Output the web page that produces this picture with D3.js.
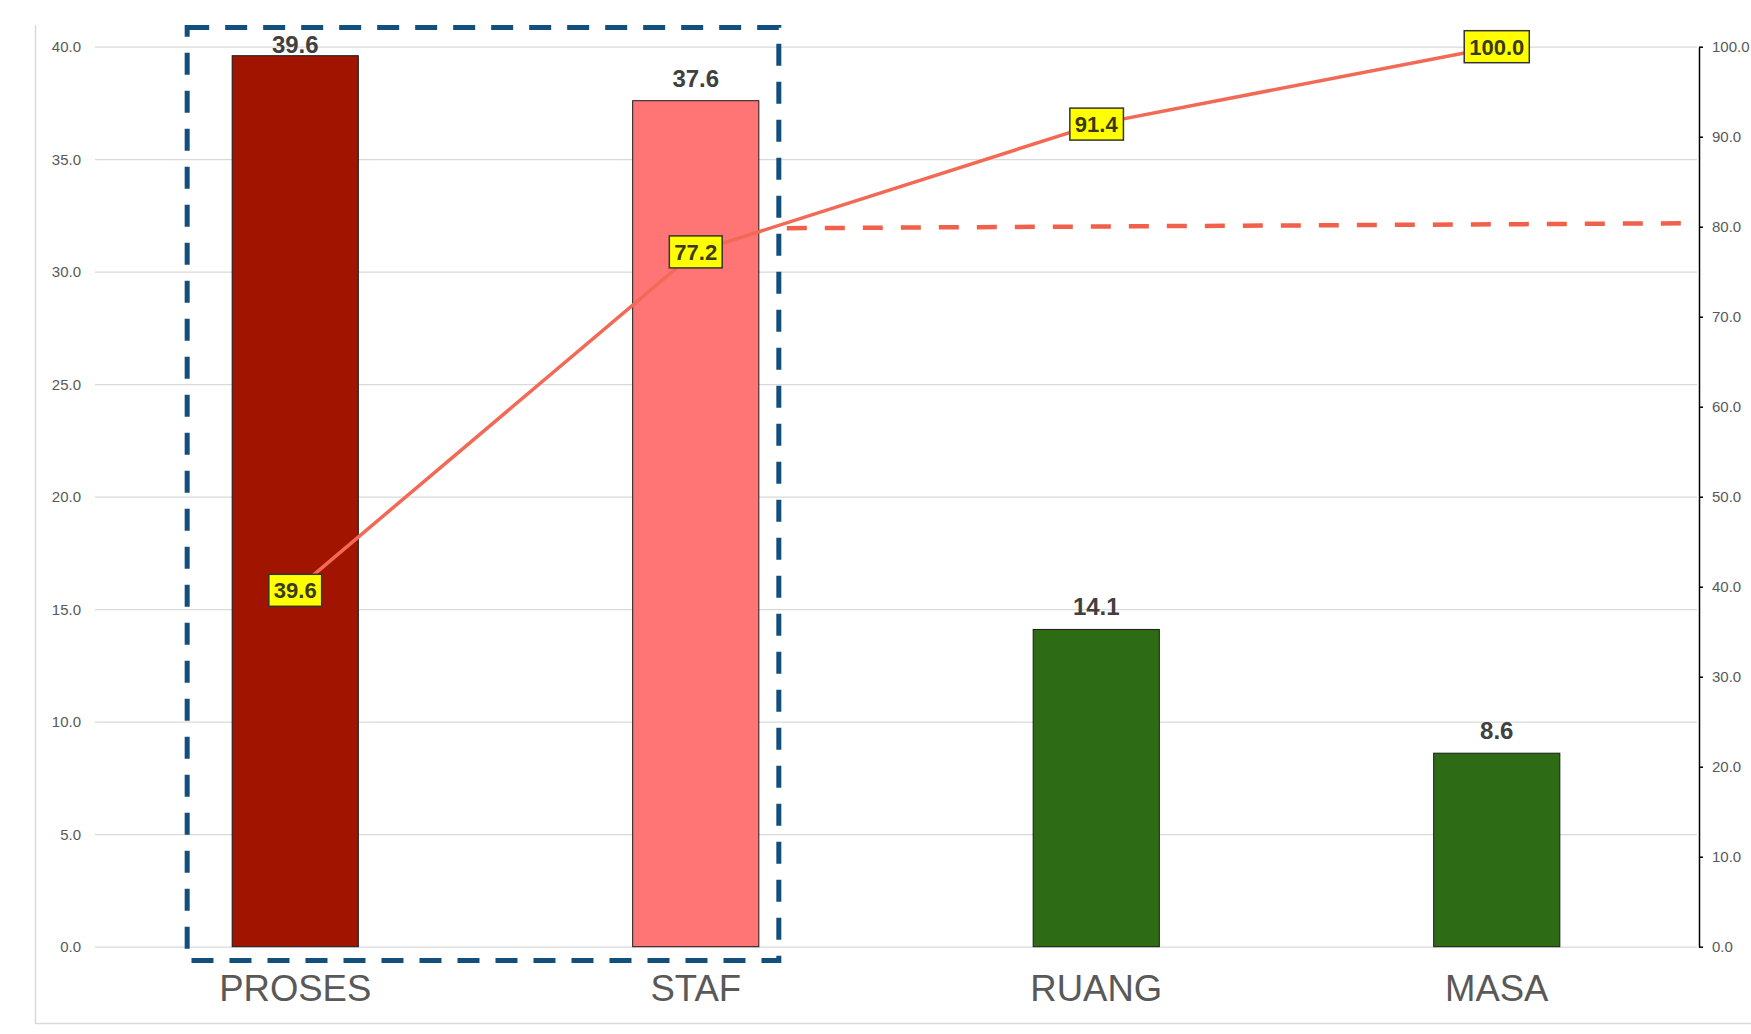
<!DOCTYPE html>
<html>
<head>
<meta charset="utf-8">
<script src="https://cdn.jsdelivr.net/npm/d3@7"></script>
<style>
  body { margin: 0; background: #fff; }
  svg { display: block; font-family: "Liberation Sans", Arial, sans-serif; }
</style>
</head>
<body>
<script>
// pareto data
var categories = ["PROSES", "STAF", "RUANG", "MASA"];
var percents = [39.6, 37.6, 14.1, 8.6];
var cumulative = [39.6, 77.2, 91.4, 100.0];
var barColors = ["#a11500", "#ff7575", "#2e6b15", "#2e6b15"];
var leftTicks = [0, 5, 10, 15, 20, 25, 30, 35, 40];
var rightTicks = [0, 10, 20, 30, 40, 50, 60, 70, 80, 90, 100];
var threshold = 80;
var highlighted = ["PROSES", "STAF"];

var width = 1751;
var height = 1034;
// note: "top" is window.top in the global scope, so use plot* names
var plotL = 95, plotR = 1697, plotT = 46.7, plotB = 946.7;

var svg = d3.select("body").append("svg")
  .attr("width", width)
  .attr("height", height);

// outer chart frame (only left and bottom edges show)
svg.append("path")
  .attr("d", "M35.5,25V1023.5H" + width)
  .attr("fill", "none").attr("stroke", "#d9d9d9").attr("stroke-width", 1.5);

var x = d3.scaleBand().domain(categories).range([plotL, plotR])
  .paddingInner(0.685).paddingOuter(0.3425);
var y = d3.scaleLinear().domain([0, 40]).range([plotB, plotT]);
var y2 = d3.scaleLinear().domain([0, 100]).range([plotB, plotT]);

// gridlines + left labels
var leftAxis = svg.append("g").attr("transform", "translate(" + plotL + ",0)")
  .call(d3.axisLeft(y).tickValues(leftTicks).tickFormat(d3.format(".1f"))
    .tickSize(-(plotR - plotL)).tickPadding(14));
leftAxis.select(".domain").remove();
leftAxis.selectAll("line").attr("stroke", "#d9d9d9").attr("stroke-width", 1.3);
leftAxis.selectAll("text").attr("fill", "#595959").attr("font-size", 15)
  .attr("font-family", "Liberation Sans, Arial, sans-serif");

// right axis
var rightAxis = svg.append("g").attr("transform", "translate(1699,0)")
  .call(d3.axisRight(y2).tickValues(rightTicks).tickFormat(d3.format(".1f"))
    .tickSizeInner(4).tickSizeOuter(0).tickPadding(9));
rightAxis.select(".domain").attr("stroke", "#000").attr("stroke-width", 1.5);
rightAxis.selectAll("line").attr("stroke", "#000").attr("stroke-width", 1.5);
rightAxis.selectAll("text").attr("fill", "#595959").attr("font-size", 15)
  .attr("font-family", "Liberation Sans, Arial, sans-serif");

// bars
var bw = x.bandwidth();
svg.selectAll("rect.bar").data(percents).enter().append("rect")
  .attr("class", "bar")
  .attr("x", function(d, i) { return x(categories[i]); })
  .attr("y", function(d) { return y(d); })
  .attr("width", bw)
  .attr("height", function(d) { return plotB - y(d); })
  .attr("fill", function(d, i) { return barColors[i]; })
  .attr("stroke", "#1a1a1a").attr("stroke-width", 1);

// bar value labels (top one gets pushed down inside the plot)
svg.selectAll("text.val").data(percents).enter().append("text")
  .attr("class", "val")
  .attr("x", function(d, i) { return x(categories[i]) + bw / 2; })
  .attr("y", function(d) { return Math.max(y(d) - 14, plotT + 6.5); })
  .attr("text-anchor", "middle")
  .attr("font-size", 24).attr("font-weight", "bold").attr("fill", "#404040")
  .text(function(d) { return d.toFixed(1); });

// category labels
svg.selectAll("text.cat").data(categories).enter().append("text")
  .attr("class", "cat")
  .attr("x", function(d) { return x(d) + bw / 2; })
  .attr("y", 1001)
  .attr("text-anchor", "middle")
  .attr("font-size", 36.5).attr("fill", "#595959")
  .text(function(d) { return d; });

// highlight box round the vital few
var boxL = x(highlighted[0]) - 45;
var boxR = x(highlighted[highlighted.length - 1]) + bw + 20;
svg.append("rect")
  .attr("x", boxL).attr("y", 27.5)
  .attr("width", boxR - boxL).attr("height", 960.5 - 27.5)
  .attr("fill", "none").attr("stroke", "#134f7c").attr("stroke-width", 5)
  .attr("stroke-dasharray", "22,16");

// 80% threshold line
svg.append("line")
  .attr("x1", boxR + 8).attr("x2", plotR)
  .attr("y1", y2(threshold) + 1.5).attr("y2", y2(threshold) - 3.5)
  .attr("stroke", "#f0604a").attr("stroke-width", 4.5)
  .attr("stroke-dasharray", "20,18");

// cumulative line
var line = d3.line()
  .x(function(d, i) { return x(categories[i]) + bw / 2; })
  .y(function(d) { return y2(d); });
svg.append("path").datum(cumulative)
  .attr("d", line)
  .attr("fill", "none").attr("stroke", "#f26a55").attr("stroke-width", 3.5);

// yellow labels on the line
var lab = svg.selectAll("g.cum").data(cumulative).enter().append("g")
  .attr("class", "cum")
  .attr("transform", function(d, i) {
    return "translate(" + (x(categories[i]) + bw / 2) + "," + y2(d) + ")";
  });
lab.append("text")
  .attr("text-anchor", "middle").attr("dy", "0.36em")
  .attr("font-size", 22).attr("font-weight", "bold").attr("fill", "#3a3a1a")
  .text(function(d) { return d.toFixed(1); });
lab.each(function() {
  var g = d3.select(this);
  var b = g.select("text").node().getBBox();
  g.insert("rect", "text")
    .attr("x", b.x - 5).attr("y", -16)
    .attr("width", b.width + 10).attr("height", 32)
    .attr("fill", "#ffff00").attr("stroke", "#333").attr("stroke-width", 1.5);
});
</script>
</body>
</html>
